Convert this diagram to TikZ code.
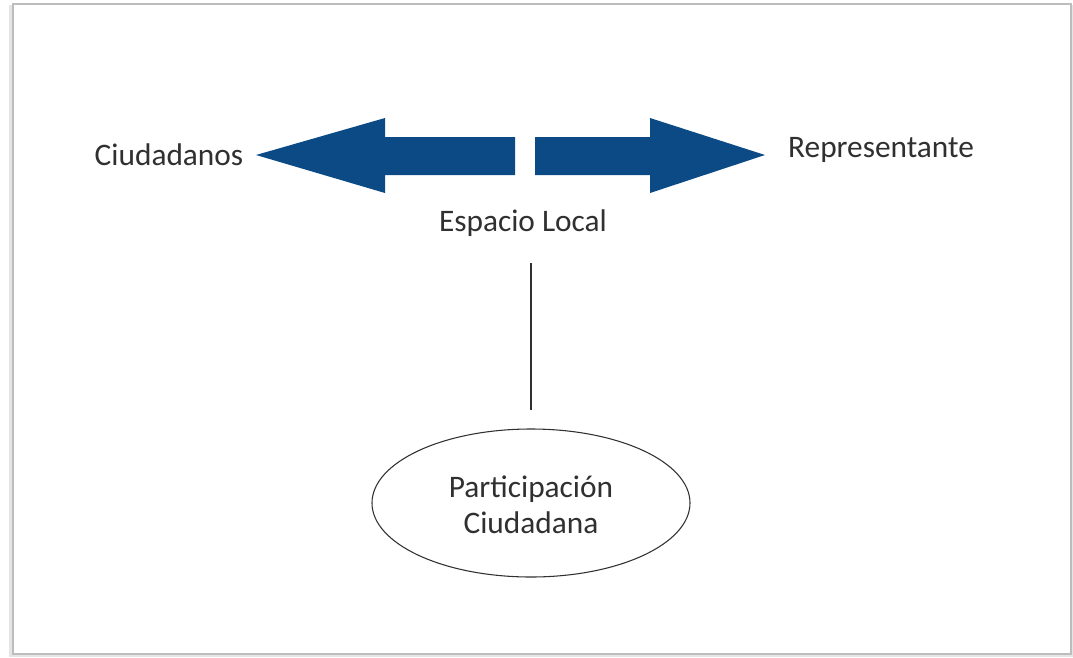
\documentclass[tikz,border=0pt]{standalone}
\usepackage{fontspec}
\setmainfont{Carlito}
\usetikzlibrary{shapes.geometric}
\definecolor{arrowblue}{HTML}{0C4A86}
\definecolor{txt}{HTML}{303030}
\definecolor{framegray}{HTML}{BDBDBD}
\begin{document}
\begin{tikzpicture}[x=0.75pt,y=-0.75pt,
  lbl/.style={font=\fontsize{23.5}{28}\selectfont, text=txt, inner sep=0pt, anchor=base},
  bigarrow/.style={fill=arrowblue, draw=none},
  link/.style={draw=txt, line width=0.8pt}]
\useasboundingbox (0,0) rectangle (1073,657);
% frame with soft shadow
\fill[black!10] (9,5) rectangle (1073,657);
\fill[white] (13,4) rectangle (1071,654);
\draw[framegray, line width=0.9pt] (13,4) rectangle (1071,654);
% arrows
\fill[bigarrow] (256,155) -- (385,118) -- (385,137) -- (515,137) -- (515,175) -- (385,175) -- (385,193) -- cycle;
\fill[bigarrow] (765,155) -- (650,118) -- (650,137) -- (535,137) -- (535,175) -- (650,175) -- (650,193) -- cycle;
% labels
\node[lbl] (ciud) at (169,165) {Ciudadanos};
\node[lbl] (rep) at (881,157) {Representante};
\node[lbl] (esp) at (523,231) {Espacio Local};
\coordinate (top) at (531,263);
\node[ellipse, draw=txt, line width=0.8pt, inner sep=0pt,
      minimum width=238.5pt, minimum height=111pt] (part) at (531,503) {};
\node[lbl] (t1) at (531,497) {Participación};
\node[lbl] (t2) at (531,533) {Ciudadana};
\draw[link] (top) -- (part.north |- 0,410);
\end{tikzpicture}
\end{document}
